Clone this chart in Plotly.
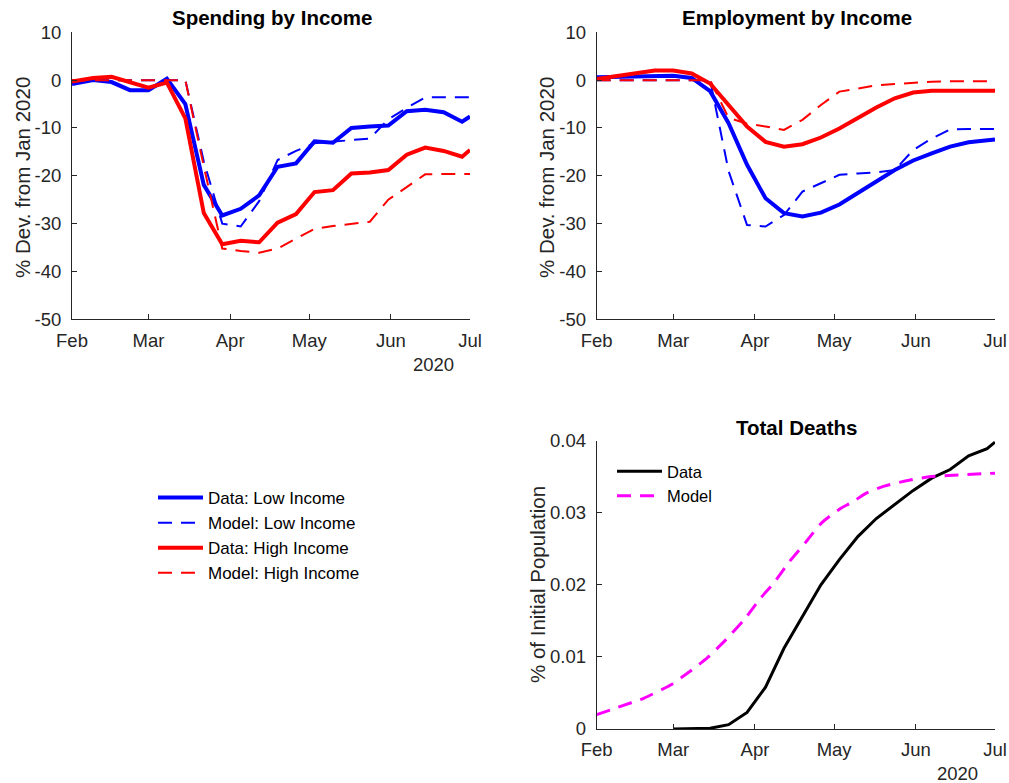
import plotly.graph_objects as go

# ---------------- data ----------------
weeks = ["2020-02-01", "2020-02-09", "2020-02-16", "2020-02-23", "2020-03-01", "2020-03-08",
         "2020-03-15", "2020-03-22", "2020-03-29", "2020-04-05", "2020-04-12", "2020-04-19",
         "2020-04-26", "2020-05-03", "2020-05-10", "2020-05-17", "2020-05-24", "2020-05-31",
         "2020-06-07", "2020-06-14", "2020-06-21", "2020-06-28", "2020-07-01"]

spend_data_low = [-0.8, 0.0, -0.4, -2.1, -2.1, 0.3, -5.0, -21.9, -28.3, -26.9, -24.1, -18.1,
                  -17.4, -12.8, -13.1, -10.0, -9.7, -9.5, -6.5, -6.2, -6.7, -8.7, -7.6]
spend_model_low = [0.0, 0.0, 0.0, 0.0, 0.0, 0.0, 0.0, -17.0, -30.0, -30.6, -25.3, -16.7,
                   -14.8, -13.2, -12.9, -12.5, -12.2, -8.2, -5.8, -3.6, -3.6, -3.6, -3.6]
spend_data_high = [-0.3, 0.45, 0.7, -0.5, -1.6, -0.5, -8.0, -27.8, -34.3, -33.6, -33.9, -29.8,
                   -28.0, -23.4, -23.0, -19.5, -19.3, -18.8, -15.6, -14.1, -14.8, -16.0, -14.6]
spend_model_high = [0.0, 0.0, 0.0, 0.0, 0.0, 0.0, 0.0, -18.0, -35.2, -35.7, -36.1, -35.2,
                    -33.1, -31.1, -30.5, -30.1, -29.6, -25.0, -22.3, -19.7, -19.6, -19.6, -19.6]

emp_data_low = [0.6, 0.7, 0.9, 0.9, 0.9, 0.45, -2.3, -9.0, -17.7, -24.7, -27.8, -28.5,
                -27.7, -26.0, -23.7, -21.2, -18.8, -16.8, -15.3, -13.9, -13.0, -12.5, -12.4]
emp_model_low = [0.0, 0.0, 0.0, 0.0, 0.0, 0.0, 0.0, -19.0, -30.3, -30.6, -28.2, -23.3,
                 -21.6, -19.8, -19.5, -19.3, -18.8, -14.6, -12.2, -10.3, -10.2, -10.2, -10.2]
emp_data_high = [0.25, 0.9, 1.6, 2.0, 2.0, 1.4, -0.7, -5.2, -9.7, -12.9, -13.9, -13.4,
                 -12.0, -10.1, -7.8, -5.7, -3.8, -2.6, -2.2, -2.2, -2.2, -2.2, -2.2]
emp_model_high = [0.0, 0.0, 0.0, 0.0, 0.0, 0.0, 0.0, -7.9, -9.1, -9.7, -10.4, -8.3,
                  -5.2, -2.4, -1.7, -1.1, -0.8, -0.5, -0.35, -0.25, -0.2, -0.2, -0.2]

death_data_dates = weeks[4:]
death_data = [0.0, 0.0, 0.0001, 0.0006, 0.0023, 0.0058, 0.0112, 0.0156, 0.0200, 0.0235,
              0.0267, 0.0292, 0.0311, 0.0331, 0.0348, 0.0360, 0.0379, 0.0389, 0.0398]
death_model_dates = ["2020-02-01", "2020-02-09", "2020-02-19", "2020-02-29", "2020-03-07",
                     "2020-03-14", "2020-03-21", "2020-03-28", "2020-04-03", "2020-04-08",
                     "2020-04-14", "2020-04-20", "2020-04-26", "2020-05-03", "2020-05-08",
                     "2020-05-13", "2020-05-20", "2020-05-28", "2020-06-06", "2020-06-15",
                     "2020-07-01"]
death_model = [0.0020, 0.0030, 0.0043, 0.0061, 0.0079, 0.0099, 0.0124, 0.0152, 0.0181, 0.0202,
               0.0232, 0.0258, 0.0285, 0.0305, 0.0315, 0.0327, 0.0337, 0.0344, 0.0350, 0.0352,
               0.0355]

month_ticks = ["2020-02-01", "2020-03-01", "2020-04-01", "2020-05-01", "2020-06-01", "2020-07-01"]
month_labels = ["Feb", "Mar", "Apr", "May", "Jun", "Jul"]
dev_ticks = [10, 0, -10, -20, -30, -40, -50]
dev_labels = ["10", "0", "-10", "-20", "-30", "-40", "-50"]
death_ticks = [0, 0.01, 0.02, 0.03, 0.04]
death_labels = ["0", "0.01", "0.02", "0.03", "0.04"]

# ---------------- figure ----------------
W, H = 1009, 783
AX = "#262626"
FONT = "Liberation Sans, Arial, Helvetica, sans-serif"
BLUE, RED, MAG = "#0000FF", "#FF0000", "#FF00FF"
DASH = "14px,9px"
TICK = 18.5

fig = go.Figure()

def px_x(p):
    return p / W

def px_y(p):
    return 1 - p / H

def add_line(x, y, color, width, dash, name, xa, ya, legend, show=True):
    fig.add_trace(go.Scatter(x=x, y=y, mode="lines", name=name,
                             line=dict(color=color, width=width, dash=dash),
                             xaxis=xa, yaxis=ya, legend=legend, showlegend=show))

# spending panel
add_line(weeks, spend_data_low, BLUE, 4, "solid", "Data: Low Income", "x", "y", "legend")
add_line(weeks, spend_model_low, BLUE, 2, DASH, "Model: Low Income", "x", "y", "legend")
add_line(weeks, spend_data_high, RED, 4, "solid", "Data: High Income", "x", "y", "legend")
add_line(weeks, spend_model_high, RED, 2, DASH, "Model: High Income", "x", "y", "legend")
# employment panel
add_line(weeks, emp_data_low, BLUE, 4, "solid", "Data: Low Income", "x2", "y2", "legend", False)
add_line(weeks, emp_model_low, BLUE, 2, DASH, "Model: Low Income", "x2", "y2", "legend", False)
add_line(weeks, emp_data_high, RED, 4, "solid", "Data: High Income", "x2", "y2", "legend", False)
add_line(weeks, emp_model_high, RED, 2, DASH, "Model: High Income", "x2", "y2", "legend", False)
# deaths panel
add_line(death_data_dates, death_data, "black", 3, "solid", "Data", "x3", "y3", "legend2")
fig.add_trace(go.Scatter(x=death_model_dates, y=death_model, mode="lines", name="Model",
                         line=dict(color=MAG, width=3, dash=DASH, shape="spline", smoothing=0.6),
                         xaxis="x3", yaxis="y3", legend="legend2"))

xcommon = dict(type="date", range=["2020-02-01", "2020-07-01"], tickvals=month_ticks,
               ticktext=month_labels, showline=True, linecolor=AX, linewidth=1,
               ticks="inside", ticklen=5, tickcolor=AX, showgrid=False, zeroline=False,
               automargin=False, ticklabelstandoff=4,
               tickfont=dict(family=FONT, size=TICK, color=AX), fixedrange=True)
ycommon = dict(showline=True, linecolor=AX, linewidth=1, ticks="inside", ticklen=5,
               tickcolor=AX, showgrid=False, zeroline=False, automargin=False,
               ticklabelstandoff=6,
               tickfont=dict(family=FONT, size=TICK, color=AX), fixedrange=True)

top_dom = [px_y(319.3), px_y(32.3)]
bot_dom = [px_y(729), px_y(440.7)]
left_dom = [px_x(72), px_x(470)]
right_dom = [px_x(596.7), px_x(995)]

fig.update_layout(
    width=W, height=H, margin=dict(l=0, r=0, t=0, b=0, autoexpand=False),
    paper_bgcolor="white", plot_bgcolor="white",
    font=dict(family=FONT, color=AX),
    xaxis=dict(domain=left_dom, anchor="y", **xcommon),
    yaxis=dict(domain=top_dom, anchor="x", range=[-50, 10], tickvals=dev_ticks,
               ticktext=dev_labels, **ycommon),
    xaxis2=dict(domain=right_dom, anchor="y2", **xcommon),
    yaxis2=dict(domain=top_dom, anchor="x2", range=[-50, 10], tickvals=dev_ticks,
                ticktext=dev_labels, **ycommon),
    xaxis3=dict(domain=right_dom, anchor="y3", **xcommon),
    yaxis3=dict(domain=bot_dom, anchor="x3", range=[0, 0.04], tickvals=death_ticks,
                ticktext=death_labels, **ycommon),
    legend=dict(x=px_x(153), y=px_y(480), xanchor="left", yanchor="top",
                bgcolor="rgba(0,0,0,0)", font=dict(family=FONT, size=17, color="black"),
                tracegroupgap=0, itemwidth=45),
    legend2=dict(x=px_x(612), y=px_y(454), xanchor="left", yanchor="top",
                 bgcolor="rgba(0,0,0,0)", font=dict(family=FONT, size=16.5, color="black"),
                 tracegroupgap=0, itemwidth=45),
)

ann = []
def title(text, cx, cy):
    ann.append(dict(text="<b>%s</b>" % text, x=px_x(cx), y=px_y(cy), xref="paper", yref="paper",
                    showarrow=False, xanchor="center", yanchor="middle",
                    font=dict(family=FONT, size=20.5, color="black")))

def ylabel(text, cx, cy):
    ann.append(dict(text=text, x=px_x(cx), y=px_y(cy), xref="paper", yref="paper",
                    showarrow=False, xanchor="center", yanchor="middle", textangle=-90,
                    font=dict(family=FONT, size=20.5, color=AX)))

def year(cx, cy):
    ann.append(dict(text="2020", x=px_x(cx), y=px_y(cy), xref="paper", yref="paper",
                    showarrow=False, xanchor="center", yanchor="middle",
                    font=dict(family=FONT, size=TICK, color=AX)))

title("Spending by Income", 272, 18)
title("Employment by Income", 797, 18)
title("Total Deaths", 797, 427)
ylabel("% Dev. from Jan 2020", 22, 178)
ylabel("% Dev. from Jan 2020", 546, 178)
ylabel("% of Initial Population", 537, 585)
year(433, 364)
year(957, 773)
fig.update_layout(annotations=ann)

fig.write_html("out.html", config={"displayModeBar": False},
               post_script="document.body.style.margin='0';")
